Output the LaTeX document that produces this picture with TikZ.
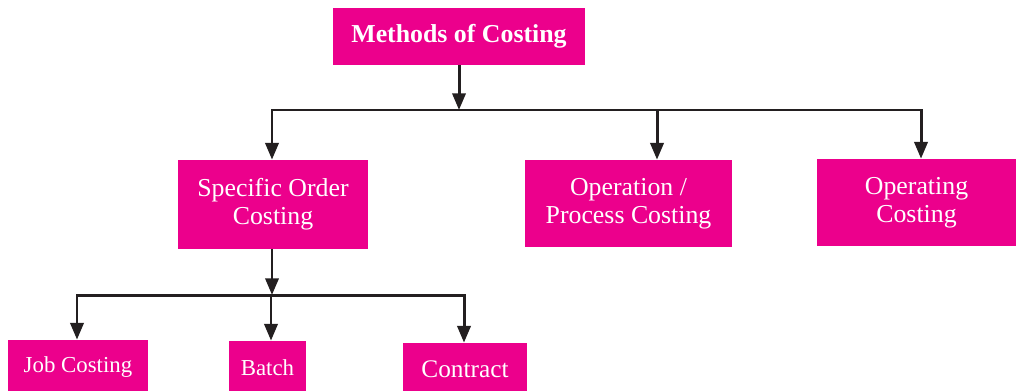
\documentclass[tikz,border=0pt]{standalone}
\usepackage{fontspec}
\setmainfont{Liberation Serif}
\usetikzlibrary{arrows.meta}
\definecolor{costpink}{HTML}{EC008C}
\definecolor{arrowgray}{HTML}{231F20}

\begin{document}
\begin{tikzpicture}[x=0.02cm, y=0.02cm,
    box/.style={rectangle, fill=costpink, text=white, inner sep=0pt, align=center, font=\fontsize{14.7}{15.9}\selectfont},
    leaf/.style={box, font=\fontsize{13}{14}\selectfont},
    link/.style={-{Triangle[length=9.5pt, width=7.5pt]}, line width=1.7pt, draw=arrowgray},
    bar/.style={line width=1.7pt, draw=arrowgray, line cap=rect}]
    \useasboundingbox (0,0) rectangle (1016,390);

    % Nodes of the three levels
    \node[box, minimum width=5.04cm, minimum height=1.14cm, font=\fontsize{14.7}{15.9}\selectfont\bfseries] (methods) at (459,353.5) {Methods of Costing};
    \node[box, minimum width=3.8cm, minimum height=1.78cm] (order) at (273,185.5) {Specific Order\\Costing};
    \node[box, minimum width=4.14cm, minimum height=1.74cm] (process) at (628.5,186.5) {Operation /\\Process Costing};
    \node[box, minimum width=3.98cm, minimum height=1.74cm] (operating) at (916.5,187.5) {Operating\\Costing};
    \node[leaf, minimum width=2.8cm, minimum height=1.1cm] (job) at (78,22.5) {Job Costing};
    \node[leaf, minimum width=1.54cm, minimum height=1.08cm] (batch) at (267.5,22) {Batch};
    \node[leaf, minimum width=2.48cm, minimum height=1.04cm, font=\fontsize{14.4}{15}\selectfont] (contract) at (465,21) {Contract};

    % Branch points
    \coordinate (j1) at (459,280);
    \coordinate (s1) at (272,280);
    \coordinate (s2) at (657,280);
    \coordinate (s3) at (921,280);
    \coordinate (j2) at (272,95);
    \coordinate (t1) at (77,95);
    \coordinate (t2) at (271,95);
    \coordinate (t3) at (464,95);

    % Arrows from methods to the kinds
    \draw[link] (methods) -- (j1);
    \draw[bar] (s1) -- (s3);
    \draw[link] (s1) -- (s1 |- order.north);
    \draw[link] (s2) -- (s2 |- process.north);
    \draw[link] (s3) -- (s3 |- operating.north);

    % Arrows from specific order costing
    \draw[link] (order.south -| j2) -- (j2);
    \draw[bar] (t1) -- (t3);
    \draw[link] (t1) -- (t1 |- job.north);
    \draw[link] (t2) -- (t2 |- batch.north);
    \draw[link] (t3) -- (t3 |- contract.north);
  \end{tikzpicture}
\end{document}
